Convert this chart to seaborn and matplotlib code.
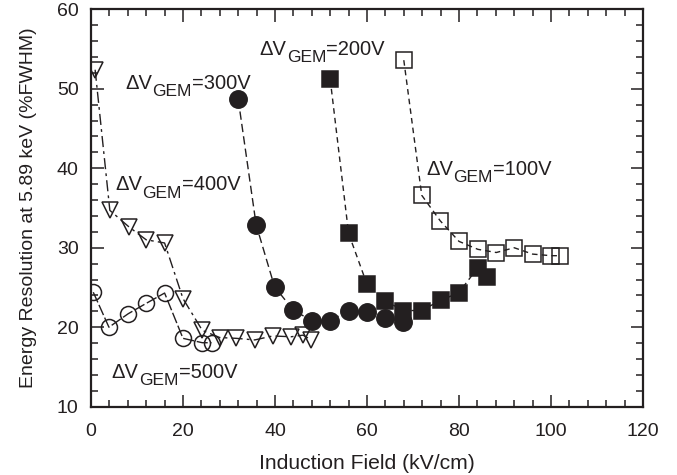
import matplotlib
matplotlib.use("Agg")
import matplotlib.pyplot as plt
import seaborn as sns
import pandas as pd
from matplotlib.ticker import MultipleLocator

# Energy resolution vs induction field for several GEM voltages
field_100 = [68.0, 71.9, 75.9, 80.0, 84.1, 88.1, 92.0, 96.0, 100.0, 102.0]
res_100 = [53.6, 36.6, 33.4, 30.8, 29.8, 29.4, 30.0, 29.2, 29.0, 29.0]

field_200 = [52.0, 56.0, 60.0, 64.0, 67.9, 71.9, 76.0, 79.9, 84.1, 86.0]
res_200 = [51.2, 31.8, 25.4, 23.3, 22.1, 22.1, 23.4, 24.3, 27.5, 26.3]

field_300 = [32.0, 35.9, 39.9, 43.9, 48.0, 51.9, 56.0, 60.0, 64.0, 67.9]
res_300 = [48.7, 32.9, 25.1, 22.2, 20.8, 20.8, 22.1, 21.9, 21.1, 20.7]

field_400 = [0.9, 4.1, 8.3, 12.0, 16.0, 20.0, 24.2, 28.0, 31.6, 35.6, 39.5, 43.5, 46.1, 47.9]
res_400 = [52.4, 34.7, 32.6, 31.0, 30.6, 23.6, 19.6, 18.7, 18.6, 18.4, 18.9, 18.8, 19.0, 18.4]

field_500 = [0.5, 3.9, 8.1, 12.0, 16.0, 20.0, 24.2, 26.2]
res_500 = [24.4, 20.0, 21.7, 23.0, 24.3, 18.6, 18.05, 18.05]

voltages = ["100V", "200V", "300V", "400V", "500V"]

frames = []
for v, fx, ry in zip(voltages,
                     [field_100, field_200, field_300, field_400, field_500],
                     [res_100, res_200, res_300, res_400, res_500]):
    frames.append(pd.DataFrame({"field": fx, "res": ry, "voltage": v}))
df = pd.concat(frames, ignore_index=True)

sns.set_theme(style="ticks")
plt.rcParams["font.family"] = ["Liberation Sans", "DejaVu Sans"]

ink = "#231f20"

fig = plt.figure(figsize=(6.77, 4.75), dpi=100)
ax = fig.add_axes([0.1344, 0.1438, 0.8154, 0.8366])

styles = {
    "100V": dict(marker="s", mfc="none", ms=11.5, ls=(0, (4, 3))),
    "200V": dict(marker="s", mfc=ink, ms=12, ls=(0, (4, 3))),
    "300V": dict(marker="o", mfc=ink, ms=12.5, ls=(0, (6, 3))),
    "400V": dict(marker="v", mfc="none", ms=11.5, ls=(0, (8, 3, 2, 3))),
    "500V": dict(marker="o", mfc="none", ms=11.5, ls=(0, (8, 2))),
}

for v in voltages:
    sub = df[df["voltage"] == v]
    st = styles[v]
    sns.lineplot(data=sub, x="field", y="res", ax=ax, sort=False, estimator=None,
                 color=ink, linewidth=1.0, linestyle=st["ls"],
                 marker=st["marker"], markersize=st["ms"],
                 markerfacecolor=st["mfc"], markeredgecolor=ink,
                 markeredgewidth=1.1)

ax.set_xlim(0, 120)
ax.set_ylim(10, 60)
ax.xaxis.set_major_locator(MultipleLocator(20))
ax.xaxis.set_minor_locator(MultipleLocator(4))
ax.yaxis.set_major_locator(MultipleLocator(10))
ax.yaxis.set_minor_locator(MultipleLocator(2))
ax.tick_params(which="both", direction="in", top=True, right=True,
               colors=ink, labelcolor=ink, labelsize=14, width=1.1)
ax.tick_params(which="major", length=9)
ax.tick_params(which="minor", length=5)
ax.tick_params(axis="x", which="major", pad=12)
ax.tick_params(axis="y", which="major", pad=9)
for s in ax.spines.values():
    s.set_color(ink)
    s.set_linewidth(1.6)

ax.set_xlabel("Induction Field (kV/cm)", fontsize=15.2, color=ink, labelpad=10)
ax.set_ylabel("Energy Resolution at 5.89 keV (%FWHM)", fontsize=14, color=ink, labelpad=14)


def gem_label(x, y, volt):
    """Write ΔV with a GEM subscript followed by =<volt> at data (x, y)."""
    main = ax.text(x, y, "ΔV", fontsize=14.5, color=ink, ha="left", va="bottom")
    sub = ax.annotate("GEM", xy=(1, 0), xycoords=main, xytext=(0.3, -4.5),
                      textcoords="offset points", fontsize=12.5, color=ink,
                      ha="left", va="bottom")
    ax.annotate("=" + volt, xy=(1, 0), xycoords=(sub, main), xytext=(0.3, 0),
                textcoords="offset points", fontsize=14.5, color=ink,
                ha="left", va="bottom")


label_pos = {
    "300V": (7.4, 49.5),
    "200V": (36.6, 53.8),
    "100V": (72.8, 38.7),
    "400V": (5.2, 36.7),
    "500V": (4.5, 13.1),
}
for v, (lx, ly) in label_pos.items():
    gem_label(lx, ly, v)

fig.savefig("out.png", dpi=100)
